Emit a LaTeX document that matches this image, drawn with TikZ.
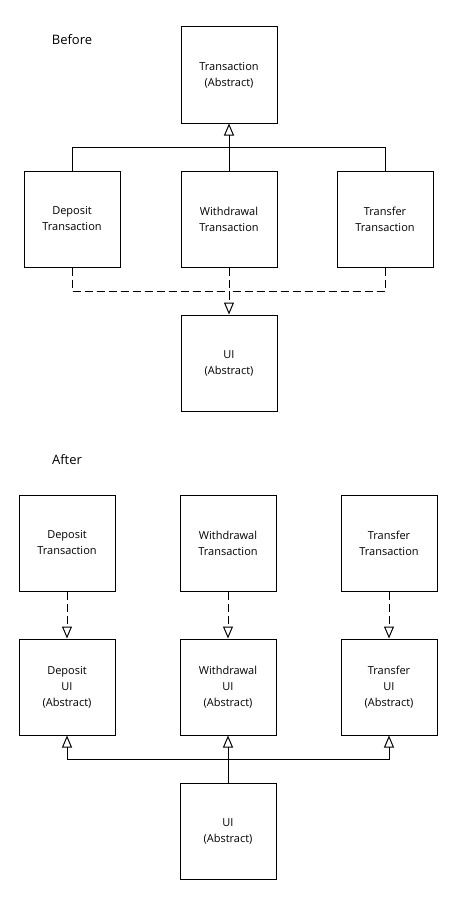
\documentclass[tikz,border=0pt]{standalone}
\usepackage{fontspec}
\setmainfont{Open Sans}
\usetikzlibrary{arrows.meta}

\tikzset{
	cls/.style={draw, rectangle, line width=1pt, minimum width=96pt, minimum height=96pt, align=center, inner sep=0pt, font=\fontsize{11}{16}\selectfont},
	dep/.style={line width=1pt, dash pattern=on 8pt off 4pt},
	inh/.style={line width=1pt},
	tip/.style={-{Triangle[open, length=12pt, width=10pt, line width=1pt]}},
	ttl/.style={font=\fontsize{13}{15}\selectfont}
}

\begin{document}
\begin{tikzpicture}[x=1pt, y=-1pt]
				\useasboundingbox (0,0) rectangle (461,899);
				% before
				\node[ttl] (before)at(72, 40) {Before};
				\node[cls] (T)at(229, 75) {Transaction\\(Abstract)};
				\node[cls] (D)at(72, 219) {Deposit\\Transaction};
				\node[cls] (W)at(229, 219) {Withdrawal\\Transaction};
				\node[cls] (F)at(385, 219) {Transfer\\Transaction};
				\node[cls] (UI)at(229, 363) {UI\\(Abstract)};
				\coordinate (k)at(229, 147);
				\coordinate (j)at(229, 291);
				\draw[inh] (D.north) |- (k);
				\draw[inh] (F.north) |- (k);
				\draw[inh, tip] (W.north) -- (T.south);
				\draw[dep] (D.south) |- (j);
				\draw[dep] (F.south) |- (j);
				\draw[dep, tip] (W.south) -- (UI.north);
				% after
				\node[ttl] (after)at(67, 460) {After};
				\node[cls] (D2)at(67, 543) {Deposit\\Transaction};
				\node[cls] (W2)at(228, 543) {Withdrawal\\Transaction};
				\node[cls] (F2)at(389, 543) {Transfer\\Transaction};
				\node[cls] (DU)at(67, 687) {Deposit\\UI\\(Abstract)};
				\node[cls] (WU)at(228, 687) {Withdrawal\\UI\\(Abstract)};
				\node[cls] (FU)at(389, 687) {Transfer\\UI\\(Abstract)};
				\node[cls] (UI2)at(228, 831) {UI\\(Abstract)};
				\coordinate (m)at(228, 759);
				\draw[dep, tip] (D2.south) -- (DU.north);
				\draw[dep, tip] (W2.south) -- (WU.north);
				\draw[dep, tip] (F2.south) -- (FU.north);
				\draw[inh, tip] (m) -| (DU.south);
				\draw[inh, tip] (m) -| (FU.south);
				\draw[inh, tip] (UI2.north) -- (WU.south);
			\end{tikzpicture}
\end{document}
